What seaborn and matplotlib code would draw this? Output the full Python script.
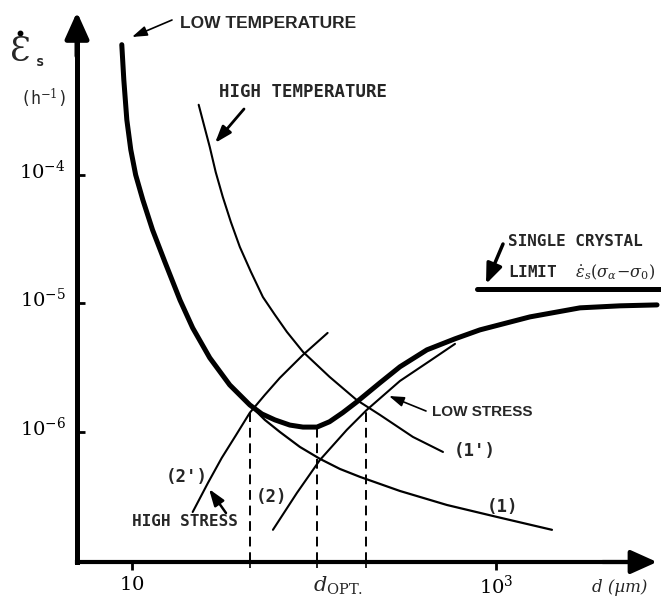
import numpy as np
import pandas as pd
import matplotlib
matplotlib.use("Agg")
import matplotlib.pyplot as plt
import seaborn as sns
from matplotlib.lines import Line2D
from matplotlib.ticker import NullLocator, NullFormatter
from matplotlib.transforms import ScaledTranslation

# ---------------- data (grain size d in um, creep rate in 1/h) ----------------
# thick envelope curve
env_d = [8.81, 9.04, 9.39, 9.87, 10.5, 11.5, 13.0, 15.2, 18.4, 21.6, 26.8, 34.5,
         44.5, 51.8, 61.1, 73.8, 87.1, 104, 122, 144, 172, 230, 297, 418, 596,
         817, 1538, 2897, 4797, 7674]
env_e = [1.03e-3, 5.48e-4, 2.68e-4, 1.57e-4, 1.0e-4, 6.38e-5, 3.73e-5, 2.10e-5,
         1.06e-5, 6.44e-6, 3.77e-6, 2.32e-6, 1.62e-6, 1.38e-6, 1.24e-6, 1.13e-6,
         1.09e-6, 1.09e-6, 1.20e-6, 1.41e-6, 1.71e-6, 2.40e-6, 3.21e-6, 4.35e-6,
         5.30e-6, 6.22e-6, 7.85e-6, 9.23e-6, 9.57e-6, 9.73e-6]

# (1) low temperature
c1_d = [8.81, 9.04, 9.39, 9.87, 10.5, 11.5, 13.0, 15.2, 18.4, 21.6, 26.8, 34.5,
        44.5, 53.8, 65.0, 83.8, 108, 139, 179, 297, 538, 1012, 2032]
c1_e = [1.03e-3, 5.48e-4, 2.68e-4, 1.57e-4, 1.0e-4, 6.38e-5, 3.73e-5, 2.10e-5,
        1.06e-5, 6.44e-6, 3.77e-6, 2.32e-6, 1.62e-6, 1.24e-6, 1.0e-6, 7.64e-7,
        6.17e-7, 5.15e-7, 4.47e-7, 3.47e-7, 2.70e-7, 2.18e-7, 1.73e-7]

# (1') high temperature
c1p_d = [23.3, 24.9, 26.8, 28.9, 31.6, 35.0, 39.2, 45.1, 52.5, 61.1, 71.1, 87.1,
         122, 172, 230, 350, 512]
c1p_e = [3.51e-4, 2.45e-4, 1.65e-4, 1.05e-4, 6.74e-5, 4.30e-5, 2.75e-5, 1.76e-5,
         1.12e-5, 8.15e-6, 6.0e-6, 4.20e-6, 2.68e-6, 1.77e-6, 1.36e-6, 9.14e-7,
         6.98e-7]

# (2) low stress
c2_d = [59.6, 80.7, 108, 152, 195, 297, 434, 596]
c2_e = [1.73e-7, 3.35e-7, 6.05e-7, 1.04e-6, 1.48e-6, 2.49e-6, 3.57e-6, 4.84e-6]

# (2') high stress
c2p_d = [21.6, 26.2, 31.2, 37.2, 44.5, 53.8, 65.0, 87.1, 119]
c2p_e = [2.38e-7, 4.01e-7, 6.28e-7, 9.35e-7, 1.41e-6, 1.94e-6, 2.63e-6, 3.97e-6,
         5.89e-6]

dash_d = [44.5, 104, 193]
dash_top = [1.62e-6, 1.1e-6, 1.5e-6]

sc_d = [787, 9000]
sc_e = [1.30e-5, 1.30e-5]

xtick_vals = [10, 1000]
xtick_labels = [r"$10$", r"$10^3$"]
ytick_vals = [1e-6, 1e-5, 1e-4]
ytick_labels = [r"$10^{-6}$", r"$10^{-5}$", r"$10^{-4}$"]

# ---------------- figure ----------------
sns.set_theme(style="white")
plt.rcParams["font.family"] = ["DejaVu Sans"]
plt.rcParams["mathtext.fontset"] = "dejavuserif"

W, H = 661, 605
fig = plt.figure(figsize=(W / 100, H / 100), dpi=100)
fig.patch.set_facecolor("white")
ax = fig.add_axes([77 / W, 43 / H, (W - 77) / W, (562 - 12) / H])
ax.set_facecolor("white")
ax.set_xscale("log")
ax.set_yscale("log")
XMIN, XMAX = 5.0, 8070
YMIN, YMAX = 9.72e-8, 1.85e-3


def draw(d, e, lw):
    df = pd.DataFrame({"d": d, "e": e})
    sns.lineplot(data=df, x="d", y="e", sort=False, estimator=None,
                 color="black", lw=lw, ax=ax, solid_capstyle="round",
                 solid_joinstyle="round")


draw(c1_d, c1_e, 1.6)
draw(c1p_d, c1p_e, 1.5)
draw(c2_d, c2_e, 1.5)
draw(c2p_d, c2p_e, 1.5)
draw(env_d, env_e, 3.6)
ax.plot(sc_d, sc_e, color="black", lw=3.6)
ax.vlines(dash_d, YMIN, dash_top, colors="black", linestyles=(0, (5, 3)), lw=1.4)

ax.set_xlim(XMIN, XMAX)
ax.set_ylim(YMIN, YMAX)
ax.set_xlabel("")
ax.set_ylabel("")

# axes / spines
for s in ["top", "right"]:
    ax.spines[s].set_visible(False)
ax.spines["left"].set_linewidth(3.6)
ax.spines["bottom"].set_linewidth(3.0)
ax.spines["left"].set_color("black")
ax.spines["bottom"].set_color("black")
ax.spines["bottom"].set_bounds(XMIN, 6000)
ax.spines["left"].set_bounds(YMIN, 1.3e-3)
ax.annotate("", xy=(1 - 4 / 584, 0), xycoords="axes fraction", xytext=(0.9, 0),
            arrowprops=dict(arrowstyle="-|>,head_length=1.0,head_width=0.45",
                            lw=3.0, color="black", mutation_scale=16,
                            shrinkA=0, shrinkB=0))
ax.annotate("", xy=(0, 1.0), xycoords="axes fraction", xytext=(0, 0.92),
            arrowprops=dict(arrowstyle="-|>,head_length=1.0,head_width=0.45",
                            lw=3.6, color="black", mutation_scale=16,
                            shrinkA=0, shrinkB=0))

ax.set_xticks(xtick_vals)
ax.set_xticklabels(xtick_labels, fontsize=14)
ax.set_xticks(dash_d, minor=True)
ax.xaxis.set_minor_formatter(NullFormatter())
ax.set_yticks(ytick_vals)
ax.set_yticklabels(ytick_labels, fontsize=14)
ax.yaxis.set_minor_locator(NullLocator())
ax.tick_params(axis="x", which="major", direction="out", length=6, width=2,
               pad=3, colors="black", bottom=True)
ax.tick_params(axis="x", which="minor", direction="out", length=4, width=1.4,
               bottom=True)
ax.tick_params(axis="y", which="major", direction="in", length=6, width=2,
               pad=8, colors="black", left=True)
for lbl in ax.get_yticklabels():
    lbl.set_transform(lbl.get_transform() + ScaledTranslation(0, 0.06, fig.dpi_scale_trans))
ax.grid(False)


def P(x, y):
    return (x / W, 1 - y / H)


FT = fig.transFigure
MONO = "DejaVu Sans Mono"
SANS = "Liberation Sans"

# axis titles
fig.text(*P(10, 52), "Ɛ", fontsize=24, family="DejaVu Serif", ha="left",
         va="center", transform=FT)
fig.add_artist(Line2D([20 / W], [1 - 33 / H], marker="o", ms=3.2, color="black",
                      lw=0, transform=FT))
fig.text(*P(36, 62), "s", fontsize=10, family=MONO, weight="bold", ha="left",
         va="center", transform=FT)
fig.text(*P(20, 98), r"(h$^{-1}$)", fontsize=12, family=MONO, ha="left",
         va="center", transform=FT)
fig.text(*P(592, 588), "d (µm)", fontsize=12, family="DejaVu Serif", style="italic",
         ha="left", va="center", transform=FT)
fig.text(*P(313, 586), r"$d_{\mathrm{OPT.}}$", fontsize=15, ha="left", va="center",
         transform=FT)

thin_arrow = dict(arrowstyle="-|>,head_length=0.9,head_width=0.3", lw=1.2,
                  color="black", shrinkA=0, shrinkB=0, mutation_scale=10)

fig.text(*P(180, 23), "LOW TEMPERATURE", fontsize=12.5, family=SANS,
         weight="bold", ha="left", va="center", transform=FT)
ax.annotate("", xy=P(132, 37), xycoords="figure fraction", xytext=P(172, 20),
            arrowprops=thin_arrow)

fig.text(*P(219, 92), "HIGH TEMPERATURE", fontsize=12.5, family=MONO,
         weight="bold", ha="left", va="center", transform=FT)
ax.annotate("", xy=P(215, 143), xycoords="figure fraction", xytext=P(244, 109),
            arrowprops=dict(arrowstyle="-|>,head_length=1.0,head_width=0.35",
                            lw=2.0, color="black", shrinkA=0, shrinkB=0,
                            mutation_scale=10))

fig.text(*P(508, 242), "SINGLE CRYSTAL", fontsize=11.5, family=MONO,
         weight="bold", ha="left", va="center", transform=FT)
fig.text(*P(508, 272), r"LIMIT  $\dot{\varepsilon}_s(\sigma_\alpha\!-\!\sigma_0)$",
         fontsize=11.5, family=MONO, weight="bold", ha="left", va="center",
         transform=FT)
ax.annotate("", xy=P(486, 284), xycoords="figure fraction", xytext=P(503, 244),
            arrowprops=dict(arrowstyle="-|>,head_length=1.0,head_width=0.4",
                            lw=2.5, color="black", shrinkA=0, shrinkB=0,
                            mutation_scale=12))

fig.text(*P(432, 412), "LOW STRESS", fontsize=11, family=SANS, weight="bold",
         ha="left", va="center", transform=FT)
ax.annotate("", xy=P(389, 396), xycoords="figure fraction", xytext=P(426, 411),
            arrowprops=thin_arrow)

fig.text(*P(132, 522), "HIGH STRESS", fontsize=11.5, family=MONO, weight="bold",
         ha="left", va="center", transform=FT)
ax.annotate("", xy=P(209, 489), xycoords="figure fraction", xytext=P(226, 513),
            arrowprops=dict(arrowstyle="-|>,head_length=1.0,head_width=0.35",
                            lw=1.8, color="black", shrinkA=0, shrinkB=0,
                            mutation_scale=10))

fig.text(*P(454, 451), "(1')", fontsize=12.5, family=MONO, weight="bold",
         ha="left", va="center", transform=FT)
fig.text(*P(487, 507), "(1)", fontsize=12.5, family=MONO, weight="bold",
         ha="left", va="center", transform=FT)
fig.text(*P(256, 497), "(2)", fontsize=12.5, family=MONO, weight="bold",
         ha="left", va="center", transform=FT)
fig.text(*P(166, 477), "(2')", fontsize=12.5, family=MONO, weight="bold",
         ha="left", va="center", transform=FT)

fig.savefig("out.png", dpi=100, facecolor="white")
